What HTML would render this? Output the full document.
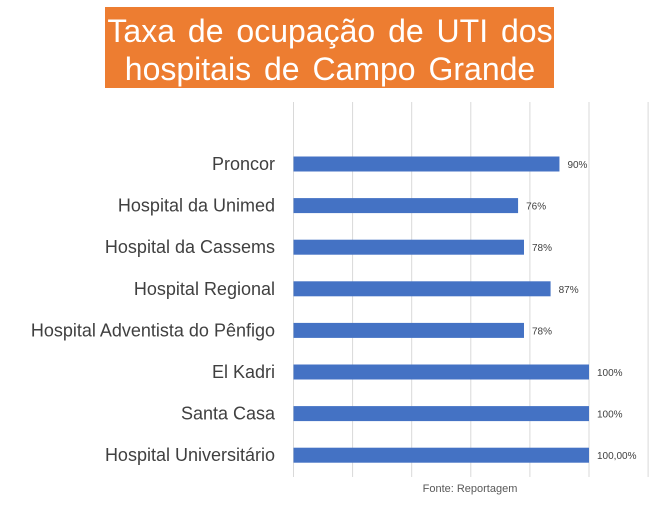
<!DOCTYPE html>
<html><head><meta charset="utf-8"><style>
body{margin:0;background:#fff;width:652px;height:506px;overflow:hidden;font-family:"Liberation Sans",Arial,sans-serif}
</style></head><body>
<svg width="652" height="506" style="position:absolute;left:0;top:0">
<rect x="105" y="7" width="449" height="81" fill="#ED7D31"/>
<text x="330" y="42" text-anchor="middle" fill="#fff" font-size="32" word-spacing="4">Taxa de ocupação de UTI dos</text>
<text x="330" y="80" text-anchor="middle" fill="#fff" font-size="32" word-spacing="4">hospitais de Campo Grande</text>
<g id="grid"></g>
<g id="bars"></g>
<text x="470" y="492" text-anchor="middle" fill="#595959" font-size="11">Fonte:  Reportagem</text>
</svg>
<script>
const categories=["Proncor","Hospital da Unimed","Hospital da Cassems","Hospital Regional","Hospital Adventista do Pênfigo","El Kadri","Santa Casa","Hospital Universitário"];
const values=[90,76,78,87,78,100,100,100];
const valueLabels=["90%","76%","78%","87%","78%","100%","100%","100,00%"];
const gridTicks=[0,20,40,60,80,100,120];
const NS="http://www.w3.org/2000/svg";
const x0=293.5,x100=589,yTop=102,yBot=477,row0=164,rowStep=41.6,barH=15;
const xs=v=>x0+(x100-x0)*v/100;
const ys=i=>row0+i*rowStep;
const grid=document.getElementById('grid'),bars=document.getElementById('bars');
gridTicks.forEach(t=>{const l=document.createElementNS(NS,'line');
l.setAttribute('x1',xs(t));l.setAttribute('x2',xs(t));l.setAttribute('y1',yTop);l.setAttribute('y2',yBot);
l.setAttribute('stroke','#d9d9d9');l.setAttribute('stroke-width','1');


grid.appendChild(l);});
categories.forEach((c,i)=>{
const y=ys(i);
const lab=document.createElementNS(NS,'text');
lab.setAttribute('x',275);lab.setAttribute('y',y+6);lab.setAttribute('text-anchor','end');
lab.setAttribute('font-size','18');lab.setAttribute('fill','#404040');lab.textContent=c;


bars.appendChild(lab);
const r=document.createElementNS(NS,'rect');
r.setAttribute('x',x0);r.setAttribute('y',y-barH/2);r.setAttribute('width',xs(values[i])-x0);r.setAttribute('height',barH);
r.setAttribute('fill','#4472C4');


bars.appendChild(r);
const v=document.createElementNS(NS,'text');
v.setAttribute('x',xs(values[i])+8);v.setAttribute('y',y+4);v.setAttribute('font-size','10');v.setAttribute('fill','#404040');
v.textContent=valueLabels[i];


bars.appendChild(v);
});
</script>
</body></html>
